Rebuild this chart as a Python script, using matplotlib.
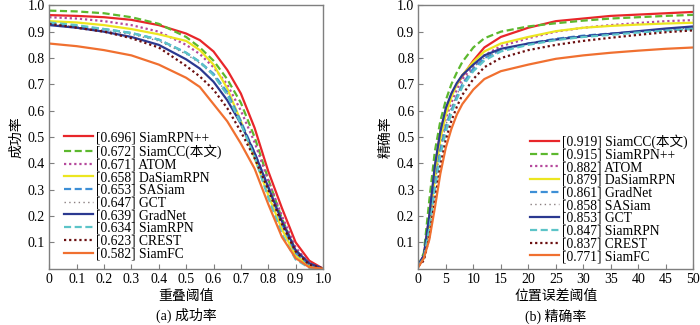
import matplotlib
matplotlib.use("Agg")
import matplotlib.pyplot as plt

plt.rcParams['font.family'] = ['Liberation Serif', 'Noto Sans CJK SC']
plt.rcParams['axes.unicode_minus'] = False

# ---------------- Success plot data ----------------
succ_x = [0, 0.1, 0.2, 0.3, 0.4, 0.5, 0.55, 0.6, 0.65, 0.7, 0.75, 0.8, 0.85, 0.9, 0.95, 1.0]
succ_names = ["[0.696] SiamRPN++", "[0.672] SiamCC(本文)", "[0.671] ATOM", "[0.658] DaSiamRPN",
              "[0.653] SASiam", "[0.647] GCT", "[0.639] GradNet", "[0.634] SiamRPN",
              "[0.623] CREST", "[0.582] SiamFC"]
succ_siamrpnpp = [0.963, 0.960, 0.955, 0.945, 0.925, 0.893, 0.868, 0.825, 0.755, 0.665, 0.535, 0.370, 0.230, 0.100, 0.030, 0.0]
succ_siamcc    = [0.980, 0.977, 0.970, 0.955, 0.930, 0.880, 0.840, 0.790, 0.720, 0.630, 0.500, 0.340, 0.190, 0.070, 0.015, 0.0]
succ_atom      = [0.955, 0.950, 0.940, 0.925, 0.900, 0.850, 0.815, 0.765, 0.700, 0.600, 0.480, 0.335, 0.200, 0.080, 0.020, 0.0]
succ_dasiam    = [0.940, 0.935, 0.925, 0.910, 0.890, 0.865, 0.830, 0.775, 0.685, 0.560, 0.420, 0.280, 0.150, 0.050, 0.010, 0.0]
succ_sasiam    = [0.930, 0.920, 0.910, 0.895, 0.870, 0.820, 0.785, 0.740, 0.670, 0.560, 0.440, 0.310, 0.170, 0.060, 0.015, 0.0]
succ_gct       = [0.930, 0.918, 0.905, 0.890, 0.865, 0.815, 0.780, 0.735, 0.665, 0.555, 0.435, 0.310, 0.175, 0.065, 0.015, 0.0]
succ_gradnet   = [0.925, 0.915, 0.900, 0.880, 0.850, 0.795, 0.760, 0.710, 0.640, 0.550, 0.440, 0.310, 0.180, 0.070, 0.020, 0.0]
succ_siamrpn   = [0.935, 0.925, 0.910, 0.895, 0.870, 0.820, 0.785, 0.735, 0.660, 0.550, 0.425, 0.270, 0.130, 0.035, 0.003, 0.0]
succ_crest     = [0.930, 0.915, 0.900, 0.875, 0.840, 0.770, 0.730, 0.680, 0.610, 0.520, 0.420, 0.300, 0.170, 0.065, 0.015, 0.0]
succ_siamfc    = [0.855, 0.845, 0.830, 0.810, 0.775, 0.725, 0.690, 0.625, 0.560, 0.475, 0.380, 0.245, 0.120, 0.040, 0.005, 0.0]

# ---------------- Precision plot data ----------------
prec_x = [0, 1, 2, 3, 4, 5, 6, 7, 8, 10, 12, 15, 20, 25, 30, 35, 40, 45, 50]
prec_names = ["[0.919] SiamCC(本文)", "[0.915] SiamRPN++", "[0.882] ATOM", "[0.879] DaSiamRPN",
              "[0.861] GradNet", "[0.858] SASiam", "[0.853] GCT", "[0.847] SiamRPN",
              "[0.837] CREST", "[0.771] SiamFC"]
prec_siamcc    = [0.010, 0.050, 0.200, 0.380, 0.520, 0.600, 0.660, 0.700, 0.730, 0.790, 0.840, 0.880, 0.915, 0.940, 0.950, 0.960, 0.965, 0.970, 0.975]
prec_siamrpnpp = [0.010, 0.060, 0.260, 0.445, 0.560, 0.640, 0.700, 0.745, 0.785, 0.840, 0.875, 0.900, 0.920, 0.932, 0.942, 0.950, 0.955, 0.960, 0.964]
prec_atom      = [0.010, 0.040, 0.180, 0.350, 0.480, 0.570, 0.630, 0.680, 0.720, 0.770, 0.810, 0.845, 0.875, 0.900, 0.915, 0.925, 0.933, 0.940, 0.944]
prec_dasiam    = [0.010, 0.040, 0.170, 0.340, 0.490, 0.585, 0.650, 0.700, 0.735, 0.785, 0.825, 0.855, 0.880, 0.902, 0.915, 0.922, 0.927, 0.931, 0.934]
prec_gradnet   = [0.010, 0.040, 0.160, 0.320, 0.450, 0.540, 0.600, 0.655, 0.700, 0.760, 0.800, 0.830, 0.855, 0.873, 0.885, 0.893, 0.900, 0.907, 0.912]
prec_sasiam    = [0.010, 0.040, 0.160, 0.320, 0.450, 0.545, 0.610, 0.660, 0.705, 0.765, 0.800, 0.830, 0.855, 0.872, 0.884, 0.893, 0.900, 0.908, 0.915]
prec_gct       = [0.015, 0.050, 0.200, 0.390, 0.520, 0.610, 0.665, 0.705, 0.735, 0.775, 0.810, 0.835, 0.855, 0.870, 0.882, 0.892, 0.902, 0.912, 0.920]
prec_siamrpn   = [0.010, 0.040, 0.150, 0.300, 0.430, 0.520, 0.590, 0.645, 0.690, 0.750, 0.790, 0.825, 0.850, 0.868, 0.880, 0.888, 0.897, 0.904, 0.910]
prec_crest     = [0.010, 0.030, 0.120, 0.260, 0.390, 0.490, 0.560, 0.615, 0.660, 0.720, 0.765, 0.800, 0.830, 0.850, 0.865, 0.877, 0.888, 0.898, 0.905]
prec_siamfc    = [0.005, 0.040, 0.110, 0.230, 0.360, 0.460, 0.530, 0.585, 0.625, 0.680, 0.720, 0.750, 0.775, 0.797, 0.810, 0.820, 0.828, 0.835, 0.840]

RED = '#e8262a'; GREEN = '#5cb82e'; PURPLE = '#b5489c'; YELLOW = '#ece620'
BLUE = '#3d8fd6'; GREY = '#8a7f80'; NAVY = '#2b3990'; TEAL = '#5cc4c8'
DRED = '#6b0f10'; ORANGE = '#f07030'
DASH = (0, (3.2, 1.6))
DOT = (0, (1, 1.3))
FINEDOT = (0, (1, 2.4))
LW = 1.6

succ_series = [succ_siamrpnpp, succ_siamcc, succ_atom, succ_dasiam, succ_sasiam,
               succ_gct, succ_gradnet, succ_siamrpn, succ_crest, succ_siamfc]
succ_styles = [(RED, '-', LW), (GREEN, DASH, LW), (PURPLE, DOT, LW), (YELLOW, '-', LW),
               (BLUE, DASH, LW), (GREY, FINEDOT, 1.0), (NAVY, '-', LW), (TEAL, DASH, LW),
               (DRED, DOT, LW), (ORANGE, '-', LW)]

prec_series = [prec_siamcc, prec_siamrpnpp, prec_atom, prec_dasiam, prec_gradnet,
               prec_sasiam, prec_gct, prec_siamrpn, prec_crest, prec_siamfc]
prec_styles = succ_styles

fig = plt.figure(figsize=(7.0, 3.25), dpi=100)
ax1 = fig.add_axes([0.0704, 0.1735, 0.391, 0.810])
ax2 = fig.add_axes([0.5976, 0.1735, 0.3929, 0.810])

FS = 10
LFS = 9.8
SPINE = '#7f7f7f'

def style_axes(ax):
    for s in ax.spines.values():
        s.set_color(SPINE)
        s.set_linewidth(1.0)
    ax.tick_params(direction='in', length=3.5, width=0.8, color=SPINE,
                   labelsize=FS, pad=3)

for ys, (c, ls, lw), name in zip(succ_series, succ_styles, succ_names):
    ax1.plot(succ_x, ys, color=c, linestyle=ls, linewidth=lw, label=name)
ax1.set_xlim(0, 1)
ax1.set_ylim(0, 1)
ax1.set_xticks([0, 0.1, 0.2, 0.3, 0.4, 0.5, 0.6, 0.7, 0.8, 0.9, 1.0])
ax1.set_xticklabels(['0', '0.1', '0.2', '0.3', '0.4', '0.5', '0.6', '0.7', '0.8', '0.9', '1.0'])
ax1.set_yticks([0.1, 0.2, 0.3, 0.4, 0.5, 0.6, 0.7, 0.8, 0.9, 1.0])
ax1.set_yticklabels(['0.1', '0.2', '0.3', '0.4', '0.5', '0.6', '0.7', '0.8', '0.9', '1.0'])
style_axes(ax1)
ax1.set_xlabel('重叠阈值', fontsize=FS, labelpad=3)
ax1.set_ylabel('成功率', fontsize=FS, labelpad=3)
ax1.legend(loc='lower left', bbox_to_anchor=(0.025, 0.0), frameon=False, fontsize=LFS,
           handlelength=2.1, handletextpad=0.25, labelspacing=-0.02, borderaxespad=0.2)

for ys, (c, ls, lw), name in zip(prec_series, prec_styles, prec_names):
    ax2.plot(prec_x, ys, color=c, linestyle=ls, linewidth=lw, label=name)
ax2.set_xlim(0, 50)
ax2.set_ylim(0, 1)
ax2.set_xticks([0, 5, 10, 15, 20, 25, 30, 35, 40, 45, 50])
ax2.set_yticks([0.1, 0.2, 0.3, 0.4, 0.5, 0.6, 0.7, 0.8, 0.9, 1.0])
ax2.set_yticklabels(['0.1', '0.2', '0.3', '0.4', '0.5', '0.6', '0.7', '0.8', '0.9', '1.0'])
style_axes(ax2)
ax2.set_xlabel('位置误差阈值', fontsize=FS, labelpad=3)
ax2.set_ylabel('精确率', fontsize=FS, labelpad=3)
ax2.legend(loc='lower right', bbox_to_anchor=(1.0, 0.0), frameon=False, fontsize=LFS,
           handlelength=2.1, handletextpad=0.25, labelspacing=-0.02, borderaxespad=0.0)

fig.text(0.0704 + 0.391 / 2, 0.028, '(a) 成功率', ha='center', va='center', fontsize=FS)
fig.text(0.5976 + 0.3929 / 2, 0.028, '(b) 精确率', ha='center', va='center', fontsize=FS)

fig.savefig('out.png', dpi=100)
